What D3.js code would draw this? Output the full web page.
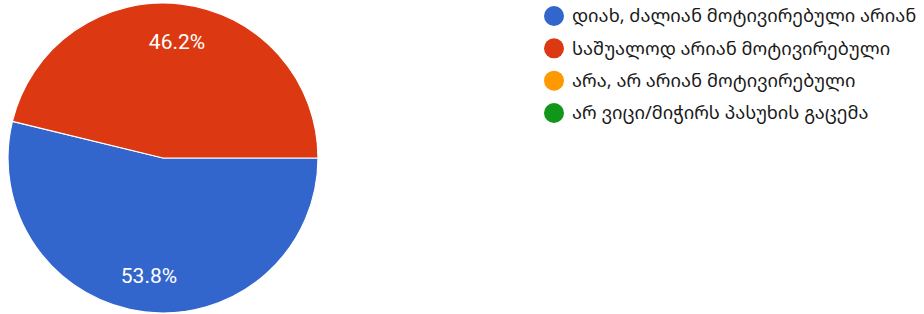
<!DOCTYPE html>
<html><head><meta charset="utf-8">
<script src="https://cdn.jsdelivr.net/npm/d3@7"></script>
<style>body{margin:0;background:#fff}svg{display:block}</style>
</head><body>
<script>
const categories = ["დიახ, ძალიან მოტივირებული არიან","საშუალოდ არიან მოტივირებული","არა, არ არიან მოტივირებული","არ ვიცი/მიჭირს პასუხის გაცემა"];
const values = [53.8, 46.2, 0, 0];
const colors = ["#3366cc","#dc3912","#ff9900","#109618"];

const W = 924, H = 314;
const svg = d3.select("body").append("svg").attr("width", W).attr("height", H);
const cx = 163, cy = 158, R = 155;
const pie = d3.pie().sort(null).value(d => d.v).startAngle(Math.PI/2).endAngle(Math.PI/2 + 2*Math.PI);
const data = categories.map((c,i)=>({c, v: values[i], col: colors[i]}));
const arcs = pie(data);
const arc = d3.arc().innerRadius(0).outerRadius(R);
const labelArc = d3.arc().innerRadius(R*0.76).outerRadius(R*0.76);
const g = svg.append("g").attr("transform", `translate(${cx},${cy})`);
g.selectAll("path").data(arcs.filter(a=>a.data.v>0)).join("path")
  .attr("d", arc).attr("fill", d=>d.data.col).attr("stroke", "#fff").attr("stroke-width", 1.2);
g.selectAll("text").data(arcs.filter(a=>a.data.v>0)).join("text")
  .attr("transform", d=>`translate(${labelArc.centroid(d)})`)
  .attr("text-anchor","middle").attr("dy","0.36em")
  .attr("fill","#fff").attr("font-family","Roboto, Arial, sans-serif").attr("font-size", 21)
  .text(d=>d.data.v.toFixed(1)+"%");

const lg = svg.append("g");
const y = d3.scalePoint().domain(categories).range([16, 113]);
const item = lg.selectAll("g").data(data).join("g").attr("transform", d=>`translate(554,${y(d.c)})`);
item.append("circle").attr("r", 10).attr("fill", d=>d.col);
item.append("text").attr("x", 18).attr("dy","0.35em")
  .attr("font-family","'Noto Sans Georgian','DejaVu Sans', sans-serif").attr("font-size", 18.3).attr("fill","#1a1a1a")
  .text(d=>d.c);
</script>
</body></html>
